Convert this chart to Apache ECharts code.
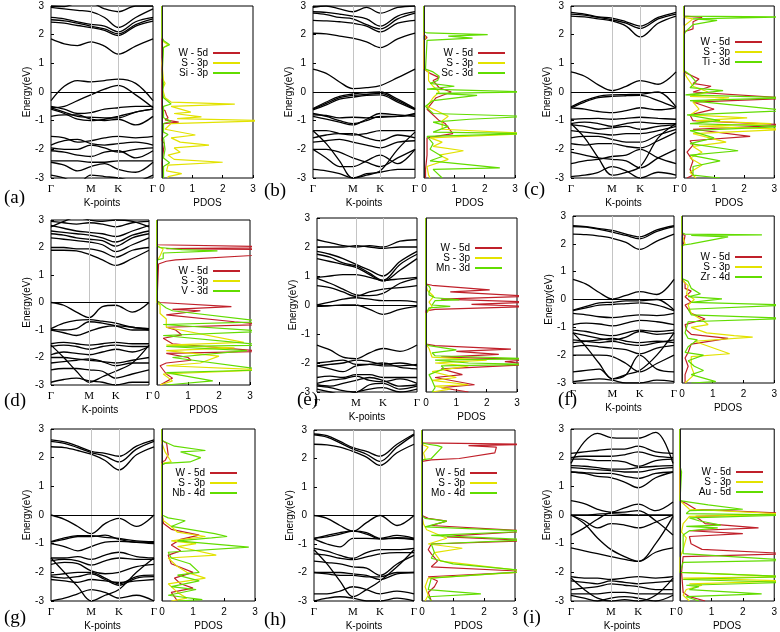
<!DOCTYPE html>
<html><head><meta charset="utf-8">
<script src="https://cdn.jsdelivr.net/npm/echarts@6/dist/echarts.min.js"></script>
<style>html,body{margin:0;padding:0;background:#fff}#c{width:780px;height:632px}</style>
</head><body><div id="c"></div><script>
// ---------- DATA ----------
const kPath = [0, 0.13, 0.26, 0.39, 0.525, 0.66, 0.83, 1];
const kTickVals = [0, 0.39, 0.66, 1];
const kTickText = ['Γ', 'M', 'K', 'Γ'];
const pdosTicks = [0, 1, 2, 3];
const panelLetters = ['(a)', '(b)', '(c)', '(d)', '(e)', '(f)', '(g)', '(h)', '(i)'];
const seriesW = 'W - 5d';
const seriesS = 'S - 3p';
const dopants = ['Si - 3p', 'Sc - 3d', 'Ti - 3d', 'V - 3d', 'Mn - 3d', 'Zr - 4d', 'Nb - 4d', 'Mo - 4d', 'Au - 5d'];

const bandsA = [
 [1.85,1.68,1.62,1.75,1.6,1.32,1.6,1.85],
 [2.6,2.55,2.45,2.36,2.3,2.1,2.45,2.6],
 [2.52,2.48,2.4,2.3,2.2,2.03,2.35,2.55],
 [2.44,2.4,2.32,2.25,2.15,1.97,2.3,2.47],
 [2.95,2.9,2.85,2.8,2.6,2.25,2.6,2.9],
 [3.0,2.98,3.1,3.1,2.9,2.8,3.0,3.0],
 [-0.3,0.2,0.4,0.35,0.4,0.45,0.3,-0.3],
 [-0.55,-0.5,-0.3,-0.1,0.1,0.23,-0.1,-0.55],
 [-0.5,-0.6,-0.75,-0.72,-0.6,-0.55,-0.5,-0.5],
 [-0.55,-0.7,-0.85,-0.88,-0.9,-0.9,-0.7,-0.6],
 [-0.85,-0.8,-0.8,-0.95,-1.0,-0.95,-1.15,-0.85],
 [-0.6,-0.75,-0.95,-1.0,-0.95,-0.85,-0.7,-0.6],
 [-1.55,-1.6,-1.75,-1.7,-1.6,-1.55,-1.6,-1.55],
 [-1.85,-1.7,-1.65,-1.8,-1.85,-1.8,-1.75,-1.85],
 [-1.95,-2.0,-2.0,-1.85,-1.95,-2.1,-2.0,-1.95],
 [-2.05,-2.1,-2.2,-2.25,-2.1,-2.05,-2.3,-2.05],
 [-2.4,-2.4,-2.4,-2.45,-2.45,-2.4,-2.4,-2.4],
 [-2.45,-2.55,-2.75,-2.6,-2.5,-2.7,-2.8,-2.45],
 [-2.9,-3.0,-3.2,-2.9,-2.95,-3.0,-3.1,-2.9]
];
const bandsB = [
 [0.8,0.65,0.35,0.12,0.15,0.22,0.5,0.8],
 [2.05,2.03,1.95,1.88,1.75,1.55,1.85,2.05],
 [2.5,2.48,2.45,2.4,2.3,2.1,2.4,2.5],
 [2.75,2.7,2.6,2.55,2.35,2.2,2.55,2.75],
 [2.8,2.78,2.72,2.65,2.55,2.3,2.65,2.8],
 [2.95,3.0,2.9,2.8,2.95,2.75,2.95,3.0],
 [-0.58,-0.35,-0.15,-0.07,-0.02,0.0,-0.25,-0.58],
 [-0.6,-0.4,-0.2,-0.12,-0.08,-0.05,-0.3,-0.6],
 [-0.62,-0.45,-0.25,-0.18,-0.12,-0.1,-0.35,-0.62],
 [-0.75,-0.85,-1.0,-1.1,-1.0,-0.85,-0.85,-0.75],
 [-0.8,-0.82,-0.9,-0.88,-0.9,-0.88,-0.85,-0.8],
 [-0.85,-0.95,-1.05,-1.15,-0.95,-0.75,-0.8,-0.85],
 [-1.35,-1.35,-1.45,-1.5,-1.45,-1.35,-1.35,-1.35],
 [-1.6,-1.5,-1.45,-1.45,-1.6,-1.7,-1.5,-1.6],
 [-1.75,-1.7,-1.65,-1.75,-1.85,-1.95,-1.75,-1.7],
 [-2.0,-2.0,-2.1,-2.3,-2.45,-2.6,-2.3,-2.0],
 [-1.35,-1.8,-2.4,-3.0,-2.9,-2.75,-2.0,-1.4],
 [-2.7,-2.75,-2.85,-3.0,-2.85,-2.8,-2.7,-2.7],
 [-2.0,-2.3,-2.6,-2.6,-2.4,-2.2,-2.5,-2.0]
];
const bandsC = [
 [2.78,2.72,2.62,2.58,2.45,2.3,2.6,2.78],
 [2.72,2.68,2.6,2.52,2.4,2.22,2.55,2.72],
 [2.65,2.62,2.55,2.48,2.3,1.92,2.4,2.65],
 [0.7,0.55,0.25,0.05,0.2,0.4,0.27,0.7],
 [-0.52,-0.3,-0.15,-0.1,-0.09,-0.08,0.0,-0.52],
 [-0.55,-0.35,-0.2,-0.15,-0.13,-0.12,-0.3,-0.55],
 [-0.55,-0.6,-0.68,-0.72,-0.65,-0.55,-0.62,-0.55],
 [-0.95,-0.93,-0.92,-0.95,-0.92,-0.88,-0.92,-0.95],
 [-1.1,-1.05,-1.1,-1.2,-1.1,-1.05,-1.1,-1.1],
 [-1.15,-1.2,-1.3,-1.25,-1.2,-1.3,-1.2,-1.15],
 [-1.35,-1.4,-1.45,-1.5,-1.45,-1.45,-1.35,-1.2],
 [-1.6,-1.55,-1.55,-1.65,-1.75,-1.75,-1.5,-1.3],
 [-1.8,-1.85,-1.8,-1.8,-1.9,-1.95,-1.7,-1.4],
 [-2.1,-2.2,-2.3,-2.35,-2.4,-2.65,-2.3,-2.0],
 [-2.5,-2.4,-2.35,-2.25,-2.2,-2.0,-2.3,-2.5],
 [-1.1,-1.6,-2.3,-2.9,-2.8,-2.6,-1.6,-1.1],
 [-2.95,-2.9,-2.8,-2.6,-2.75,-3.0,-2.8,-2.9]
];
const bandsD = [
 [1.9,1.9,1.88,1.75,1.55,1.35,1.6,1.9],
 [2.0,2.0,1.95,1.95,1.85,1.65,1.9,2.0],
 [2.35,2.3,2.25,2.2,2.1,1.85,2.1,2.35],
 [2.5,2.45,2.35,2.3,2.25,2.05,2.35,2.5],
 [2.6,2.55,2.5,2.45,2.35,2.2,2.45,2.6],
 [2.8,2.7,2.6,2.55,2.5,2.4,2.6,2.8],
 [2.95,2.9,2.85,2.9,2.85,2.75,2.9,2.95],
 [2.75,2.95,3.1,3.0,2.95,3.0,2.95,2.75],
 [0.0,-0.1,-0.35,-0.55,-0.15,-0.1,-0.35,0.0],
 [-0.95,-0.75,-0.65,-0.62,-0.68,-0.75,-0.9,-0.95],
 [-1.0,-1.1,-1.2,-1.05,-0.9,-0.85,-0.9,-1.0],
 [-0.98,-1.0,-0.95,-0.7,-0.75,-0.85,-1.0,-1.0],
 [-1.5,-1.45,-1.5,-1.55,-1.5,-1.45,-1.5,-1.5],
 [-1.6,-1.55,-1.6,-1.7,-1.6,-1.55,-1.6,-1.6],
 [-1.9,-1.8,-1.85,-1.9,-1.8,-1.7,-1.8,-1.6],
 [-2.0,-2.0,-2.05,-2.1,-2.15,-2.2,-2.1,-2.0],
 [-2.2,-2.15,-2.1,-2.05,-2.15,-2.3,-2.2,-2.2],
 [-1.55,-2.0,-2.5,-2.9,-2.7,-2.5,-2.2,-1.55],
 [-2.45,-2.4,-2.4,-2.45,-2.5,-2.75,-2.6,-2.45],
 [-2.9,-2.8,-2.75,-2.85,-2.9,-3.0,-2.9,-2.9]
];
const bandsE = [
 [-0.05,-0.03,0.0,0.0,-0.15,-0.32,-0.15,-0.05],
 [0.0,0.1,0.2,0.25,0.2,0.15,0.15,0.1],
 [0.67,0.6,0.45,0.3,0.45,0.55,0.6,0.67],
 [0.95,1.0,1.05,1.05,0.95,0.85,0.9,0.95],
 [0.92,0.75,0.55,0.35,0.32,0.4,0.75,0.92],
 [1.6,1.5,1.4,1.3,1.05,0.82,1.2,1.6],
 [1.75,1.65,1.45,1.35,1.1,0.85,1.4,1.75],
 [1.85,1.75,1.6,1.4,1.2,1.0,1.5,1.85],
 [2.0,2.0,2.0,2.05,2.0,1.95,2.0,2.0],
 [2.25,2.15,2.05,2.0,2.05,2.0,2.2,2.25],
 [-1.38,-1.55,-1.8,-1.85,-1.65,-1.5,-1.6,-1.38],
 [-2.0,-1.95,-1.9,-2.05,-2.05,-2.1,-2.1,-2.05],
 [-2.1,-2.05,-2.0,-1.9,-1.95,-2.05,-2.0,-2.1],
 [-2.1,-2.2,-2.3,-2.1,-2.05,-2.0,-2.15,-2.2],
 [-2.5,-2.45,-2.5,-2.4,-2.4,-2.5,-2.5,-2.5],
 [-2.75,-2.8,-2.7,-2.6,-2.5,-2.6,-2.8,-2.75],
 [-2.8,-2.85,-2.95,-3.0,-2.75,-2.7,-2.9,-2.8],
 [-2.9,-3.0,-3.1,-3.0,-2.9,-2.85,-3.0,-2.9],
 [-2.7,-2.6,-2.55,-2.45,-2.6,-2.65,-2.55,-2.7]
];
const bandsF = [
 [0.72,0.55,0.25,0.02,0.15,0.28,0.18,0.72],
 [2.35,2.33,2.28,2.2,2.05,1.8,2.1,2.35],
 [2.65,2.62,2.55,2.48,2.35,2.25,2.5,2.65],
 [2.62,2.6,2.52,2.42,2.3,2.18,2.45,2.62],
 [-0.38,-0.25,-0.12,-0.1,-0.05,-0.05,0.0,-0.38],
 [-0.4,-0.3,-0.2,-0.18,-0.15,-0.12,-0.2,-0.4],
 [-0.5,-0.55,-0.62,-0.65,-0.6,-0.55,-0.58,-0.5],
 [-0.9,-0.85,-0.88,-0.95,-0.85,-0.75,-0.8,-0.9],
 [-1.1,-1.15,-1.25,-1.3,-1.2,-1.1,-1.15,-1.1],
 [-1.2,-1.3,-1.4,-1.45,-1.35,-1.15,-1.25,-1.2],
 [-1.45,-1.5,-1.55,-1.5,-1.6,-1.65,-1.55,-1.45],
 [-1.7,-1.65,-1.7,-1.75,-1.8,-1.95,-1.75,-1.65],
 [-1.55,-1.5,-1.45,-1.4,-1.5,-1.55,-1.5,-1.55],
 [-1.2,-1.7,-2.3,-2.85,-2.7,-2.55,-2.0,-1.2],
 [-2.0,-2.0,-2.0,-2.05,-2.3,-2.6,-2.3,-2.0],
 [-2.6,-2.55,-2.5,-2.85,-2.7,-2.0,-2.5,-2.6],
 [-2.95,-2.9,-2.85,-2.9,-3.0,-3.0,-2.9,-2.95]
];
const bandsG = [
 [2.62,2.55,2.4,2.22,2.15,2.05,2.4,2.62],
 [2.57,2.5,2.35,2.18,2.05,1.85,2.3,2.57],
 [2.38,2.35,2.25,2.12,1.9,1.57,2.1,2.38],
 [0.0,-0.15,-0.4,-0.65,-0.3,-0.12,-0.4,0.0],
 [-0.93,-0.8,-0.72,-0.72,-0.78,-0.82,-0.9,-0.93],
 [-0.95,-0.85,-0.75,-0.75,-0.7,-0.85,-0.95,-0.95],
 [-1.0,-1.1,-1.25,-1.1,-0.95,-0.92,-0.95,-1.0],
 [-1.5,-1.5,-1.45,-1.55,-1.4,-1.3,-1.45,-1.5],
 [-1.6,-1.55,-1.6,-1.75,-1.6,-1.5,-1.55,-1.55],
 [-1.72,-1.65,-1.7,-1.95,-2.05,-2.0,-1.8,-1.72],
 [-2.1,-2.05,-2.0,-2.0,-2.2,-2.4,-2.15,-2.1],
 [-2.15,-2.2,-2.15,-2.05,-2.25,-2.45,-2.2,-2.15],
 [-2.25,-2.3,-2.35,-2.25,-2.3,-2.35,-2.3,-2.25],
 [-1.5,-2.0,-2.5,-3.0,-2.8,-2.6,-2.0,-1.5],
 [-3.0,-2.9,-2.75,-2.6,-2.7,-2.9,-2.8,-3.0]
];
const bandsH = [
 [2.86,2.8,2.6,2.38,2.25,2.08,2.5,2.86],
 [2.83,2.75,2.55,2.33,2.15,1.9,2.4,2.83],
 [2.5,2.48,2.4,2.25,2.05,1.76,2.2,2.5],
 [0.0,-0.1,-0.35,-0.55,-0.25,0.0,-0.35,0.0],
 [-0.8,-0.7,-0.6,-0.55,-0.6,-0.8,-0.7,-0.8],
 [-0.8,-0.75,-0.65,-0.55,-0.65,-0.82,-0.78,-0.8],
 [-0.82,-1.0,-1.1,-0.8,-0.8,-0.82,-0.8,-0.85],
 [-1.15,-1.25,-1.4,-1.5,-1.3,-1.2,-1.2,-1.15],
 [-1.35,-1.4,-1.5,-1.55,-1.45,-1.35,-1.3,-1.3],
 [-1.6,-1.65,-1.7,-1.8,-1.85,-2.1,-1.7,-1.4],
 [-2.0,-2.0,-2.0,-2.05,-2.1,-2.25,-2.05,-2.0],
 [-2.0,-2.05,-2.1,-2.1,-2.15,-2.15,-2.0,-2.0],
 [-1.2,-1.7,-2.3,-2.85,-2.6,-2.3,-1.8,-1.2],
 [-2.75,-2.75,-2.65,-2.5,-2.6,-2.75,-2.65,-2.75],
 [-3.0,-2.9,-2.85,-2.9,-3.0,-3.0,-2.9,-3.0]
];
const bandsI = [
 [1.8,2.55,2.85,2.7,2.68,2.68,2.88,1.8],
 [2.15,2.2,2.25,2.3,2.3,2.4,2.2,2.15],
 [2.0,2.05,2.05,2.05,2.1,2.2,2.05,2.0],
 [1.95,1.95,1.9,1.9,1.85,1.7,1.9,1.95],
 [1.72,1.7,1.65,1.6,1.6,1.65,1.7,1.72],
 [1.65,1.62,1.58,1.55,1.5,1.5,1.6,1.65],
 [1.5,1.48,1.45,1.45,1.35,1.28,1.45,1.5],
 [1.5,1.45,1.35,1.3,1.15,0.95,1.3,1.5],
 [0.5,0.4,0.2,0.1,0.25,0.38,0.15,0.45],
 [0.0,0.0,0.03,0.05,0.02,0.0,0.0,0.0],
 [-0.7,-0.45,-0.15,0.08,0.1,0.15,-0.2,-0.7],
 [0.0,-0.2,-0.45,-0.3,-0.35,-0.45,-0.25,0.0],
 [-1.15,-1.25,-1.35,-1.45,-1.55,-1.62,-1.3,-1.15],
 [0.0,-0.3,-0.8,-1.2,-1.45,-1.62,-1.0,-0.05],
 [-2.15,-2.2,-2.2,-2.25,-2.2,-2.15,-2.2,-2.15],
 [-2.3,-2.35,-2.4,-2.3,-2.35,-2.4,-2.35,-2.3],
 [-2.6,-2.55,-2.5,-2.4,-2.45,-2.5,-2.6,-2.6],
 [-2.75,-2.75,-2.75,-2.7,-2.7,-2.75,-2.75,-2.75],
 [-2.2,-2.6,-2.9,-3.0,-2.95,-3.0,-2.8,-2.2],
 [-2.8,-2.9,-3.0,-2.9,-2.85,-2.9,-3.0,-2.8]
];

// PDOS: [dos, energy]
const pdosA_W = [[0,3],[0,-0.6],[0.1,-0.65],[0.15,-0.8],[0.2,-0.9],[0.1,-0.97],[0.55,-1.05],[0.05,-1.1],[0,-1.7],[0.08,-1.8],[0.05,-2.0],[0,-2.5],[0.03,-3]];
const pdosA_S = [[0,3],[0,1.9],[0.05,1.75],[0.2,1.65],[0.05,1.55],[0,1.0],[0.05,0.4],[0.1,0.3],[0.02,0.1],[0.1,-0.2],[0.3,-0.35],[2.4,-0.42],[0.3,-0.5],[0.95,-0.7],[0.4,-0.75],[1.3,-0.87],[0.5,-0.93],[3.5,-1.0],[0.3,-1.1],[0.1,-1.3],[1.1,-1.5],[0.3,-1.6],[0.6,-1.75],[1.55,-1.85],[0.4,-1.95],[0.6,-2.1],[0.2,-2.2],[0.4,-2.35],[2.0,-2.45],[0.2,-2.55],[0.15,-2.75],[0.65,-2.85],[0.2,-2.95],[0.2,-3]];
const pdosA_X = [[0,3],[0,1.9],[0.05,1.8],[0.25,1.65],[0.05,1.55],[0,1.5],[0,0.5],[0.05,0.3],[0.02,0],[0.05,-0.2],[0.3,-0.42],[0.05,-0.5],[0.05,-0.9],[0.3,-1.02],[0.05,-1.1],[0.05,-1.4],[0.2,-1.48],[0.05,-1.6],[0.1,-2.0],[0.05,-2.3],[0.25,-2.47],[0.05,-2.6],[0.05,-3]];

const pdosB_W = [[0,3],[0,2.0],[0.1,1.9],[0,1.8],[0,0.8],[0.2,0.65],[0.5,0.5],[0.3,0.4],[0.5,0.15],[0.9,0.0],[0.4,-0.2],[0.1,-0.6],[0.5,-1.0],[0.7,-1.1],[0.95,-1.45],[0.1,-1.6],[0.1,-2.2],[0.05,-2.7],[0.05,-3]];
const pdosB_S = [[0,3],[0,2.0],[0.05,1.9],[0,1.8],[0,0.8],[0.15,0.7],[0.15,0.4],[0.3,0.2],[0.5,0.0],[0.3,-0.2],[0.1,-0.5],[0.5,-0.7],[0.8,-0.85],[0.6,-1.0],[0.6,-1.3],[3.5,-1.45],[0.2,-1.6],[0.6,-1.75],[0.3,-1.9],[1.3,-2.05],[0.5,-2.2],[0.8,-2.35],[0.1,-2.6],[0.15,-2.9],[0.2,-3]];
const pdosB_X = [[0,3],[0,2.1],[0.1,2.06],[2.1,2.0],[0.8,1.95],[1.6,1.88],[0.1,1.8],[0.05,1.75],[0.05,0.8],[0.3,0.7],[0.5,0.55],[0.45,0.4],[0.2,0.3],[1.0,0.2],[0.1,0.1],[3.5,0.0],[0.4,-0.05],[1.75,-0.12],[0.3,-0.3],[0.05,-0.5],[0.3,-0.75],[3.5,-0.85],[1.5,-0.95],[0.3,-1.05],[0.8,-1.2],[0.3,-1.4],[3.5,-1.45],[0.1,-1.55],[0.3,-1.8],[0.2,-2.0],[0.6,-2.25],[0.2,-2.4],[2.5,-2.65],[0.3,-2.7],[0.6,-3.0]];

const pdosC_W = [[0,3],[0,2.65],[0.6,2.6],[0.3,2.45],[0.3,2.2],[0,2.1],[0,0.7],[0.5,0.45],[0.3,0.3],[0.9,0.2],[0.3,0.0],[3.5,-0.22],[0.3,-0.35],[1.0,-0.6],[0.2,-0.8],[0.3,-1.0],[3.5,-1.15],[0.3,-1.3],[2.2,-1.55],[0.2,-1.7],[0.3,-1.85],[0.1,-2.1],[0.3,-2.4],[0.2,-2.7],[0.3,-2.9],[0.1,-3.0]];
const pdosC_S = [[0,3],[0,2.6],[0.3,2.55],[0,2.3],[0,0.7],[0.1,0.5],[0.3,0.2],[0.8,0.0],[0.2,-0.15],[1.5,-0.2],[0.3,-0.35],[0.5,-0.6],[0.2,-0.8],[2.1,-0.9],[0.4,-1.0],[2.9,-1.1],[0.5,-1.2],[3.5,-1.3],[0.3,-1.45],[1.4,-1.75],[0.3,-1.9],[0.6,-2.1],[0.2,-2.3],[0.6,-2.55],[0.2,-2.8],[0.4,-3.0]];
const pdosC_X = [[0,3],[0,2.65],[3.5,2.62],[0.3,2.55],[1.1,2.5],[0.3,2.35],[0.05,2.1],[0,2.0],[0,0.75],[0.2,0.6],[0.4,0.35],[0.2,0.15],[1.3,0.05],[0.05,-0.1],[3.5,-0.2],[0.2,-0.3],[3.5,-0.65],[0.1,-0.8],[1.2,-1.0],[0.2,-1.1],[3.5,-1.2],[0.2,-1.35],[1.0,-1.6],[0.2,-1.8],[1.8,-2.05],[0.2,-2.2],[1.2,-2.4],[0.3,-2.6],[0.3,-2.9],[1.2,-3.0]];

const pdosD_W = [[0,3],[0,2.1],[5,2.0],[0.3,1.96],[6,1.9],[0.6,1.55],[0.3,1.5],[0.05,1.4],[0,0.05],[0.1,0],[2.4,-0.15],[0.5,-0.25],[1.4,-0.3],[0.3,-0.45],[2.5,-0.7],[3.5,-0.8],[0.3,-0.9],[0.6,-1.0],[0.8,-1.18],[0.2,-1.3],[0.5,-1.5],[3.5,-1.78],[0.3,-1.85],[1.0,-2.0],[1.1,-2.1],[0.3,-2.2],[0.1,-2.3],[0.3,-2.6],[0.5,-2.75],[0.1,-3]];
const pdosD_S = [[0,3],[0,2.05],[0.2,1.95],[0.1,1.7],[0.05,1.6],[0,1.5],[0,0],[0.1,-0.1],[0.1,-0.4],[0.3,-0.6],[0.3,-0.9],[2.8,-1.45],[0.3,-1.55],[2.5,-1.65],[0.3,-1.75],[2.0,-1.95],[1.4,-2.2],[0.3,-2.3],[3.5,-2.45],[0.2,-2.6],[0.5,-2.85],[0.1,-3]];
const pdosD_X = [[0,3],[0,2.05],[0.1,2.0],[0.8,1.92],[1.95,1.88],[0.2,1.8],[0.2,1.6],[0,1.55],[0,0.05],[0.05,0],[0.3,-0.2],[0.5,-0.3],[3.5,-0.7],[0.2,-0.8],[3.5,-1.05],[0.2,-1.2],[3.5,-1.55],[0.3,-1.6],[2.9,-1.75],[0.5,-2.0],[3.5,-2.45],[0.3,-2.55],[1.8,-2.85],[0.3,-3]];

const pdosE_W = [[0,3],[0,0.72],[0.2,0.68],[2.1,0.52],[0.8,0.45],[3.5,0.3],[0.5,0.2],[3.5,0.1],[1.5,0.02],[3.5,-0.05],[0.3,-0.15],[0,-0.2],[0,-1.35],[0.3,-1.4],[2.8,-1.52],[1.0,-1.6],[2.4,-1.7],[0.5,-1.8],[3.5,-1.88],[2.6,-1.95],[3.5,-2.05],[0.5,-2.2],[1.2,-2.4],[0.3,-2.5],[1.6,-2.75],[0.5,-2.85],[1.4,-3.0]];
const pdosE_S = [[0,3],[0,0.7],[0.05,0.5],[0.25,0.3],[0.1,0.1],[0.2,-0.05],[0,-0.3],[0,-1.35],[0.1,-1.5],[0.2,-1.8],[2.0,-1.9],[0.3,-2.0],[1.4,-2.1],[0.2,-2.3],[1.0,-2.5],[0.2,-2.6],[1.4,-2.75],[0.3,-2.8],[0.8,-2.9],[0.2,-3]];
const pdosE_X = [[0,3],[0,0.7],[0.1,0.65],[0.15,0.55],[0.1,0.45],[0.1,0.35],[0.3,0.25],[1.1,0.18],[0.3,0.15],[0.2,0.0],[0.8,-0.05],[0.1,-0.1],[0.05,-0.2],[0,-0.3],[0,-1.35],[0.1,-1.4],[1.0,-1.55],[0.2,-1.65],[0.3,-1.75],[3.5,-1.85],[0.3,-1.9],[1.4,-2.0],[3.5,-2.05],[0.5,-2.1],[0.6,-2.2],[0.1,-2.4],[0.2,-2.6],[0.3,-2.85],[0.2,-3]];

const pdosF_W = [[0,3],[0,2.35],[0.1,2.3],[0.05,2.0],[0,1.9],[0,0.7],[0.1,0.6],[0.1,0.4],[0.3,0.3],[0.1,0.1],[0.3,-0.1],[0.1,-0.2],[0.3,-0.5],[0.75,-0.7],[0.1,-0.9],[0.15,-1.1],[0.3,-1.25],[1.5,-1.4],[0.3,-1.6],[0.2,-1.9],[0.1,-2.1],[0.2,-2.4],[0.1,-2.7],[0.1,-3]];
const pdosF_S = [[0,3],[0,2.35],[0.1,2.0],[0,1.9],[0,0.7],[0.2,0.5],[0.15,0.2],[0.4,0.0],[0.2,-0.2],[0.3,-0.5],[0.6,-0.7],[0.85,-0.9],[0.3,-1.0],[0.8,-1.2],[1.7,-1.3],[2.3,-1.35],[0.4,-1.5],[1.55,-1.95],[0.3,-2.05],[0.3,-2.4],[0.4,-2.7],[0.1,-3]];
const pdosF_X = [[0,3],[0,2.4],[0.1,2.35],[2.6,2.32],[0.3,2.3],[1.5,2.25],[0.3,2.0],[0,1.95],[0,0.75],[0.2,0.65],[0.3,0.4],[0.6,0.2],[0.2,0.1],[1.3,0.02],[0.3,-0.1],[3.5,-0.2],[0.2,-0.35],[0.3,-0.55],[3.5,-0.68],[0.2,-0.8],[0.1,-1.2],[0.2,-1.4],[0.5,-1.45],[0.2,-1.7],[0.1,-1.9],[0.7,-2.0],[0.2,-2.2],[0.4,-2.4],[0.7,-2.55],[0.3,-2.7],[1.1,-2.95],[0.3,-3]];

const pdosG_W = [[0,3],[0,2.6],[0.15,2.5],[0.2,2.1],[0.1,1.9],[0,1.85],[0,0],[0.05,-0.3],[0.3,-0.5],[1.2,-0.7],[0.6,-0.85],[0.3,-1.05],[0.6,-1.25],[0.2,-1.4],[0.3,-1.7],[1.0,-2.0],[0.4,-2.2],[0.6,-2.4],[1.0,-2.55],[0.3,-2.7],[0.5,-3]];
const pdosG_S = [[0,3],[0,2.5],[0.1,2.2],[0.3,1.85],[0,1.8],[0,0],[0.05,-0.2],[0.3,-0.4],[0.5,-0.6],[1.4,-0.75],[0.3,-0.9],[1.1,-1.0],[0.5,-1.1],[1.75,-1.4],[0.2,-1.5],[0.5,-1.8],[0.8,-2.0],[1.4,-2.2],[0.2,-2.4],[0.5,-2.7],[0.8,-2.9],[0.3,-3]];
const pdosG_X = [[0,3],[0,2.6],[0.4,2.4],[1.4,2.25],[0.6,2.2],[1.25,2.0],[0.9,1.85],[0.1,1.8],[0,1.75],[0,0],[0.2,-0.1],[0.75,-0.2],[0.3,-0.4],[1.7,-0.65],[2.1,-0.75],[1.6,-0.8],[0.5,-0.9],[2.8,-1.12],[0.2,-1.3],[0.3,-1.5],[0.9,-1.7],[1.2,-2.0],[0.5,-2.1],[1.2,-2.3],[0.3,-2.5],[1.1,-2.6],[0.2,-2.8],[1.3,-2.95],[0.5,-3]];

const pdosH_W = [[0,3],[0,2.55],[3.5,2.5],[1.5,2.45],[2.4,2.4],[2.35,2.2],[1.2,2.0],[0.3,1.95],[0,1.9],[0,0],[0.2,-0.1],[0.8,-0.2],[0.3,-0.35],[3.5,-0.55],[1.2,-0.7],[0.8,-0.75],[3.5,-0.88],[0.3,-1.0],[0.2,-1.2],[0.3,-1.35],[0.5,-1.6],[0.3,-1.8],[3.5,-1.97],[0.2,-2.15],[0.5,-2.3],[0.4,-2.5],[0.2,-2.7],[0.3,-3]];
const pdosH_S = [[0,3],[0,2.5],[0.2,2.4],[0.05,2.2],[0.1,2.0],[0,1.9],[0,0],[0.05,-0.3],[0.15,-0.5],[0.8,-0.8],[0.2,-1.0],[1.3,-1.15],[0.4,-1.3],[0.6,-1.6],[3.5,-1.97],[0.2,-2.2],[0.1,-2.5],[0.2,-2.8],[0.1,-3]];
const pdosH_X = [[0,3],[0,2.55],[0.2,2.5],[0.5,2.45],[0.65,2.4],[0.3,2.0],[0,1.95],[0,0],[0.1,-0.1],[0.8,-0.2],[0.1,-0.4],[3.5,-0.55],[0.3,-0.7],[3.5,-0.85],[0.3,-1.0],[0.4,-1.3],[0.3,-1.5],[1.0,-1.7],[3.5,-1.95],[0.3,-2.2],[0.2,-2.6],[1.9,-2.75],[0.2,-2.85],[0.3,-3]];

const pdosI_W = [[0,3],[0,0.5],[0.2,0.4],[0.5,0.2],[3.5,0.05],[0.5,-0.05],[0.8,-0.3],[2.5,-0.45],[0.3,-0.55],[2.0,-0.65],[0.3,-0.75],[0.35,-1.0],[0.7,-1.2],[3.5,-1.35],[0.1,-1.45],[0.05,-2.0],[0.1,-2.7],[0.3,-2.85],[0.8,-3.0]];
const pdosI_S = [[0,3],[0,0.5],[0.1,0.4],[0.3,0.2],[3.5,0.02],[0.3,-0.05],[0.1,-0.3],[0.05,-0.6],[0.2,-0.8],[0.1,-1.2],[0,-1.5],[0,-2.0],[3.5,-2.15],[0.1,-2.2],[3.5,-2.3],[0.3,-2.4],[0.7,-2.45],[0.2,-2.6],[0.1,-2.8],[0.3,-3.0]];
const pdosI_X = [[0,3],[0,1.7],[0.05,1.5],[0,0.5],[0.3,0.45],[0.9,0.35],[2.0,0.2],[0.3,0.15],[0.2,0.05],[3.5,0.0],[0.3,-0.1],[0.6,-0.2],[1.3,-0.35],[0.2,-0.4],[1.2,-0.45],[0.3,-0.55],[0.1,-0.7],[0.1,-1.2],[0.1,-1.35],[3.5,-1.58],[0.1,-1.65],[0,-2.0],[3.5,-2.15],[0.1,-2.25],[3.5,-2.35],[0.2,-2.45],[0.6,-2.5],[0.3,-2.6],[2.6,-2.75],[0.2,-2.85],[0.6,-3.0]];

// ---------- LAYOUT ----------
const panels = [
 {bands:bandsA, W:pdosA_W, S:pdosA_S, X:pdosA_X},
 {bands:bandsB, W:pdosB_W, S:pdosB_S, X:pdosB_X},
 {bands:bandsC, W:pdosC_W, S:pdosC_S, X:pdosC_X},
 {bands:bandsD, W:pdosD_W, S:pdosD_S, X:pdosD_X},
 {bands:bandsE, W:pdosE_W, S:pdosE_S, X:pdosE_X},
 {bands:bandsF, W:pdosF_W, S:pdosF_S, X:pdosF_X},
 {bands:bandsG, W:pdosG_W, S:pdosG_S, X:pdosG_X},
 {bands:bandsH, W:pdosH_W, S:pdosH_S, X:pdosH_X},
 {bands:bandsI, W:pdosI_W, S:pdosI_S, X:pdosI_X}
];
const layout = [
 {bl:51, br:153, pl:162, pr:253, t:6, b:178, lgR:540, lgT:48, lx:16, ly:200},
 {bl:313, br:415, pl:424, pr:515, t:6, b:178, lgR:275, lgT:48, lx:276, ly:193},
 {bl:571, br:676, pl:684, pr:775, t:6, b:178, lgR:18, lgT:37, lx:536, ly:192},
 {bl:51, br:149, pl:157, pr:250, t:220, b:385, lgR:540, lgT:266, lx:16, ly:403},
 {bl:317, br:417, pl:426, pr:517, t:218, b:392, lgR:278, lgT:243, lx:309, ly:402},
 {bl:573, br:674, pl:682, pr:775, t:216, b:383, lgR:18, lgT:252, lx:570, ly:402},
 {bl:51, br:154, pl:162, pr:255, t:429, b:602, lgR:543, lgT:468, lx:16, ly:620},
 {bl:314, br:414, pl:422, pr:515, t:430, b:602, lgR:283, lgT:468, lx:276, ly:622},
 {bl:571, br:673, pl:680, pr:775, t:429, b:602, lgR:17, lgT:467, lx:535, ly:620}
];
const COL_W = '#c0202a', COL_S = '#e2e200', COL_X = '#62dc00';
const SANS = 'Liberation Sans, Arial, sans-serif';
const SERIF = 'Liberation Serif, Times New Roman, serif';

const grid = [], xAxis = [], yAxis = [], series = [], legend = [], graphic = [];
panels.forEach((p, i) => {
  const L = layout[i];
  const gb = 2 * i, gp = 2 * i + 1;
  grid.push({left: L.bl, top: L.t, width: L.br - L.bl, height: L.b - L.t, show: true, borderColor: '#000', borderWidth: 1, backgroundColor: 'transparent'});
  grid.push({left: L.pl, top: L.t, width: L.pr - L.pl, height: L.b - L.t, show: true, borderColor: '#000', borderWidth: 1, backgroundColor: 'transparent'});
  xAxis.push({gridIndex: gb, type: 'value', min: 0, max: 1,
    axisLine: {show: false, onZero: false}, axisTick: {show: false}, splitLine: {show: false},
    axisLabel: {customValues: kTickVals, formatter: v => kTickText[kTickVals.indexOf(v)], fontFamily: SERIF, fontSize: 11, color: '#000', margin: 6},
    name: 'K-points', nameLocation: 'middle', nameGap: 20, nameMoveOverlap: false, nameTextStyle: {fontFamily: SANS, fontSize: 10, color: '#000'}});
  xAxis.push({gridIndex: gp, type: 'value', min: 0, max: 3, interval: 1,
    axisLine: {show: false, onZero: false}, axisTick: {show: true, inside: true, length: 3, lineStyle: {color: '#000'}}, splitLine: {show: false},
    axisLabel: {customValues: pdosTicks, fontFamily: SANS, fontSize: 10, color: '#000', margin: 6},
    name: 'PDOS', nameLocation: 'middle', nameGap: 20, nameMoveOverlap: false, nameTextStyle: {fontFamily: SANS, fontSize: 10, color: '#000'}});
  yAxis.push({gridIndex: gb, type: 'value', min: -3, max: 3, interval: 1,
    axisLine: {show: false, onZero: false}, axisTick: {show: true, inside: true, length: 3, lineStyle: {color: '#000'}}, splitLine: {show: false},
    axisLabel: {fontFamily: SANS, fontSize: 10, color: '#000', margin: 7},
    name: 'Energy(eV)', nameLocation: 'middle', nameGap: 19, nameRotate: 90, nameMoveOverlap: false, nameTextStyle: {fontFamily: SANS, fontSize: 10, color: '#000'}});
  yAxis.push({gridIndex: gp, type: 'value', min: -3, max: 3, interval: 1,
    axisLine: {show: false, onZero: false}, axisTick: {show: false}, splitLine: {show: false}, axisLabel: {show: false}});
  // guide lines
  series.push({type: 'line', xAxisIndex: gb, yAxisIndex: gb, data: [], silent: true, z: 1,
    markLine: {symbol: ['none', 'none'], silent: true, label: {show: false}, animation: false,
      data: [
        {xAxis: kTickVals[1], lineStyle: {color: '#c4c4c4', width: 1, type: 'solid'}},
        {xAxis: kTickVals[2], lineStyle: {color: '#c4c4c4', width: 1, type: 'solid'}},
        {yAxis: 0, lineStyle: {color: '#000', width: 1, type: 'solid'}}
      ]}});
  p.bands.forEach(b => {
    series.push({type: 'line', xAxisIndex: gb, yAxisIndex: gb, z: 3, silent: true, symbol: 'none', smooth: 0.35,
      data: kPath.map((k, j) => [k, b[j]]), lineStyle: {color: '#000', width: 1.3}});
  });
  const pd = [[seriesW, p.W, COL_W], [seriesS, p.S, COL_S], [dopants[i], p.X, COL_X]];
  pd.forEach(([nm, d, c]) => {
    series.push({type: 'line', name: nm, xAxisIndex: gp, yAxisIndex: gp, z: 3, silent: true, symbol: 'none',
      data: d, color: c, lineStyle: {color: c, width: 1.2}});
  });
  // left frame of the PDOS box drawn over the zero-level traces
  series.push({type: 'line', xAxisIndex: gp, yAxisIndex: gp, data: [], silent: true, z: 5,
    markLine: {symbol: ['none', 'none'], silent: true, label: {show: false}, animation: false,
      data: [{xAxis: 0, lineStyle: {color: '#222', width: 1, type: 'solid'}}]}});
  legend.push({orient: 'vertical', right: L.lgR, top: L.lgT, align: 'right', icon: 'rect', itemWidth: 27, itemHeight: 2,
    itemGap: 0, selectedMode: false, padding: 0,
    textStyle: {fontFamily: SANS, fontSize: 10, color: '#000', lineHeight: 9.5},
    data: [seriesW, seriesS, dopants[i]]});
  graphic.push({type: 'text', left: L.lx - 12, top: L.ly - 11, silent: true,
    style: {text: panelLetters[i], font: '19px ' + SERIF, fill: '#000'}});
});

const chart = echarts.init(document.getElementById('c'), null, {renderer: 'canvas'});
chart.setOption({animation: false, backgroundColor: '#fff', grid, xAxis, yAxis, series, legend, graphic});
</script></body></html>
